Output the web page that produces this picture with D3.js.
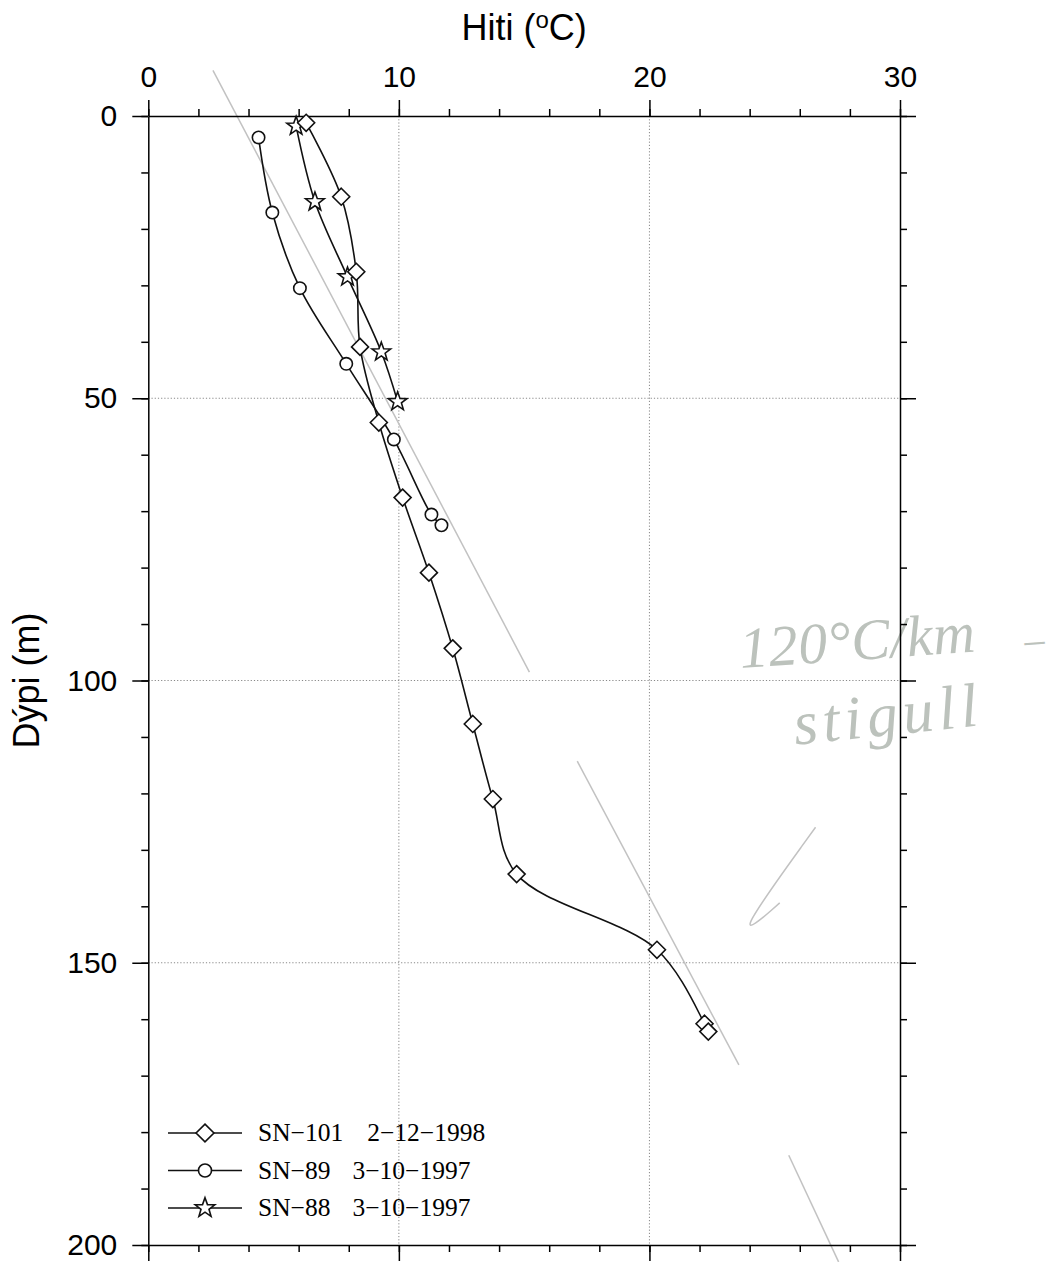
<!DOCTYPE html>
<html>
<head>
<meta charset="utf-8">
<script src="https://cdn.jsdelivr.net/npm/d3@7"></script>
<style>
  body { margin: 0; background: #fff; }
  svg { display: block; }
</style>
</head>
<body>
<svg id="chart"></svg>
<script>
// --- data (temperature in °C, depth in m) ---
var sn101Temp  = [6.3, 7.7, 8.3, 8.45, 9.2, 10.15, 11.2, 12.15, 12.95, 13.75, 14.7, 20.3, 22.2, 22.35];
var sn101Depth = [1.2, 14.3, 27.6, 40.9, 54.3, 67.6, 80.9, 94.3, 107.7, 121.0, 134.3, 147.7, 160.8, 162.2];

var sn89Temp  = [4.4, 4.95, 6.05, 7.9, 9.8, 11.3, 11.7];
var sn89Depth = [3.8, 17.1, 30.5, 43.9, 57.3, 70.6, 72.5];

var sn88Temp  = [5.9, 6.65, 7.95, 9.3, 9.95];
var sn88Depth = [1.8, 15.2, 28.5, 41.8, 50.6];

var seriesNames = ['SN\u2212101', 'SN\u221289', 'SN\u221288'];
var seriesDates = ['2\u221212\u22121998', '3\u221210\u22121997', '3\u221210\u22121997'];
var seriesSymbols = ['diamond', 'circle', 'star'];

var xMajorTicks = [0, 10, 20, 30];
var yMajorTicks = [0, 50, 100, 150, 200];
var xGrid = [10, 20];
var yGrid = [50, 100, 150];

// pencil marks drawn on the scanned page (temperature, depth)
var pencilLine1 = [[2.58, -8.1], [15.21, 98.5]];
var pencilLine2 = [[17.12, 114.3], [23.57, 168.1]];
var pencilLine3 = [[25.56, 184.1], [27.55, 203.0]];
var pencilArrow = [[26.63, 126.0], [23.14, 147.4], [25.2, 139.4]];

var W = 1063, H = 1262;
var svg = d3.select('#chart').attr('width', W).attr('height', H);

var x = d3.scaleLinear().domain([0, 30]).range([148.3, 900]);
var y = d3.scaleLinear().domain([0, 200]).range([116, 1245]);

// marker shapes
function symbolPath(kind, s) {
    if (kind === 'diamond') {
        var r = 8.5 * s;
        return 'M0,' + (-r) + 'L' + r + ',0L0,' + r + 'L' + (-r) + ',0Z';
    }
    if (kind === 'circle') {
        var c = 6.2 * s;
        return 'M' + c + ',0A' + c + ',' + c + ' 0 1,1 ' + (-c) + ',0A' + c + ',' + c + ' 0 1,1 ' + c + ',0Z';
    }
    // five point star
    var ro = 9.8 * s, ri = 4.0 * s, p = [];
    for (var i = 0; i < 10; i++) {
        var a = -Math.PI / 2 + i * Math.PI / 5;
        var rr = i % 2 === 0 ? ro : ri;
        p.push([rr * Math.cos(a), rr * Math.sin(a)]);
    }
    return 'M' + p.join('L') + 'Z';
}

// grid lines
var grid = svg.append('g').attr('stroke', '#888').attr('stroke-width', 1).attr('stroke-dasharray', '1.2,2');
grid.selectAll('.gx').data(xGrid).enter().append('line')
    .attr('x1', function(d) { return x(d); }).attr('x2', function(d) { return x(d); })
    .attr('y1', y(0)).attr('y2', y(200));
grid.selectAll('.gy').data(yGrid).enter().append('line')
    .attr('y1', function(d) { return y(d); }).attr('y2', function(d) { return y(d); })
    .attr('x1', x(0)).attr('x2', x(30));

// pencil annotations
var pencil = svg.append('g').attr('fill', 'none').attr('stroke', '#c2c2c2').attr('stroke-width', 1.5);
var pline = d3.line().x(function(d) { return x(d[0]); }).y(function(d) { return y(d[1]); });
[pencilLine1, pencilLine2, pencilLine3].forEach(function(l) {
    pencil.append('path').attr('d', pline(l));
});
pencil.append('path').attr('d', d3.line().curve(d3.curveBasis)
    .x(function(d) { return x(d[0]); }).y(function(d) { return y(d[1]); })(pencilArrow));

var hand = svg.append('g').attr('fill', '#bcc2bc')
    .style('font-family', '"Liberation Serif", serif').style('font-style', 'italic');
hand.append('text')
    .attr('transform', 'translate(' + x(23.64) + ',' + y(97.8) + ') rotate(-4)')
    .attr('textLength', 236).attr('lengthAdjust', 'spacing')
    .style('font-size', '58px').text('120\u00b0C/km');
hand.append('text')
    .attr('transform', 'translate(' + x(35.0) + ',' + y(95.2) + ') rotate(-4)')
    .style('font-size', '40px').text('\u2013');
hand.append('text')
    .attr('transform', 'translate(' + x(25.83) + ',' + y(111.4) + ') rotate(-6)')
    .attr('textLength', 185).attr('lengthAdjust', 'spacing')
    .style('font-size', '62px').text('stigull');

// axes: majors with long ticks, minors with short ones
function styleAxis(g) {
    g.selectAll('path, line').attr('stroke', '#000').attr('stroke-width', 1.5);
    g.selectAll('text').attr('fill', '#000')
        .style('font-family', '"Liberation Sans", Arial, sans-serif').style('font-size', '30px');
}

var axTop = svg.append('g').attr('transform', 'translate(0,' + y(0) + ')');
axTop.call(d3.axisTop(x).tickValues(d3.range(0, 31, 2)).tickSize(7).tickSizeOuter(0).tickFormat(''));
axTop.call(styleAxis);
var axTopMaj = svg.append('g').attr('transform', 'translate(0,' + y(0) + ')')
    .call(d3.axisTop(x).tickValues(xMajorTicks).tickSize(16).tickSizeOuter(0).tickPadding(13).tickFormat(d3.format('d')));
axTopMaj.select('.domain').remove();
axTopMaj.call(styleAxis);

var axBot = svg.append('g').attr('transform', 'translate(0,' + y(200) + ')');
axBot.call(d3.axisBottom(x).tickValues(d3.range(0, 31, 2)).tickSize(7).tickSizeOuter(0).tickFormat(''));
axBot.call(styleAxis);
svg.append('g').attr('transform', 'translate(0,' + y(200) + ')')
    .call(d3.axisBottom(x).tickValues(xMajorTicks).tickSize(16).tickSizeOuter(0).tickFormat(''))
    .call(function(g) { g.select('.domain').remove(); })
    .call(styleAxis);

var axLeft = svg.append('g').attr('transform', 'translate(' + x(0) + ',0)');
axLeft.call(d3.axisLeft(y).tickValues(d3.range(0, 201, 10)).tickSize(7).tickSizeOuter(0).tickFormat(''));
axLeft.call(styleAxis);
svg.append('g').attr('transform', 'translate(' + x(0) + ',0)')
    .call(d3.axisLeft(y).tickValues(yMajorTicks).tickSize(16).tickSizeOuter(0).tickPadding(15).tickFormat(d3.format('d')))
    .call(function(g) { g.select('.domain').remove(); })
    .call(styleAxis);

var axRight = svg.append('g').attr('transform', 'translate(' + x(30) + ',0)');
axRight.call(d3.axisRight(y).tickValues(d3.range(0, 201, 10)).tickSize(7).tickSizeOuter(0).tickFormat(''));
axRight.call(styleAxis);
svg.append('g').attr('transform', 'translate(' + x(30) + ',0)')
    .call(d3.axisRight(y).tickValues(yMajorTicks).tickSize(16).tickSizeOuter(0).tickFormat(''))
    .call(function(g) { g.select('.domain').remove(); })
    .call(styleAxis);

// axis titles
var title = svg.append('text')
    .attr('x', (x(0) + x(30)) / 2).attr('y', 40)
    .attr('text-anchor', 'middle')
    .style('font-family', '"Liberation Sans", Arial, sans-serif').style('font-size', '36px');
title.append('tspan').text('Hiti (');
title.append('tspan').attr('dy', -12).style('font-size', '24px').text('o');
title.append('tspan').attr('dy', 12).text('C)');

svg.append('text')
    .attr('transform', 'translate(39,' + y(100) + ') rotate(-90)')
    .attr('text-anchor', 'middle')
    .style('font-family', '"Liberation Sans", Arial, sans-serif').style('font-size', '36px')
    .text('D\u00fdpi (m)');

// series
var series = [
    { temp: sn101Temp, depth: sn101Depth },
    { temp: sn89Temp, depth: sn89Depth },
    { temp: sn88Temp, depth: sn88Depth }
];
series.forEach(function(s, i) {
    s.points = s.temp.map(function(t, j) { return [t, s.depth[j]]; });
    s.symbol = seriesSymbols[i];
});

var line = d3.line()
    .curve(d3.curveCatmullRom.alpha(0.5))
    .x(function(d) { return x(d[0]); })
    .y(function(d) { return y(d[1]); });

var plot = svg.append('g');
series.slice().reverse().forEach(function(s) {
    plot.append('path')
        .attr('d', line(s.points))
        .attr('fill', 'none').attr('stroke', '#111').attr('stroke-width', 1.6);
});
series.slice().reverse().forEach(function(s) {
    plot.selectAll(null).data(s.points).enter().append('path')
        .attr('transform', function(d) { return 'translate(' + x(d[0]) + ',' + y(d[1]) + ')'; })
        .attr('d', symbolPath(s.symbol, 1))
        .attr('fill', '#fff').attr('stroke', '#111').attr('stroke-width', 1.6);
});

// legend
var legend = svg.append('g');
var rows = legend.selectAll('g').data(seriesNames).enter().append('g')
    .attr('transform', function(d, i) { return 'translate(168,' + (1133 + i * 37.5) + ')'; });
rows.append('line').attr('x1', 0).attr('x2', 74).attr('y1', 0).attr('y2', 0)
    .attr('stroke', '#111').attr('stroke-width', 1.6);
rows.append('path')
    .attr('transform', 'translate(37,0)')
    .attr('d', function(d, i) { return symbolPath(seriesSymbols[i], 1.05); })
    .attr('fill', '#fff').attr('stroke', '#111').attr('stroke-width', 1.6);
var lt = rows.append('text')
    .attr('x', 90).attr('y', 8)
    .style('font-family', '"Liberation Serif", "Times New Roman", serif').style('font-size', '25.5px');
lt.append('tspan').text(function(d) { return d; });
lt.append('tspan').attr('dx', function(d, i) { return i === 0 ? 24 : 22; })
    .text(function(d, i) { return seriesDates[i]; });
</script>
</body>
</html>
